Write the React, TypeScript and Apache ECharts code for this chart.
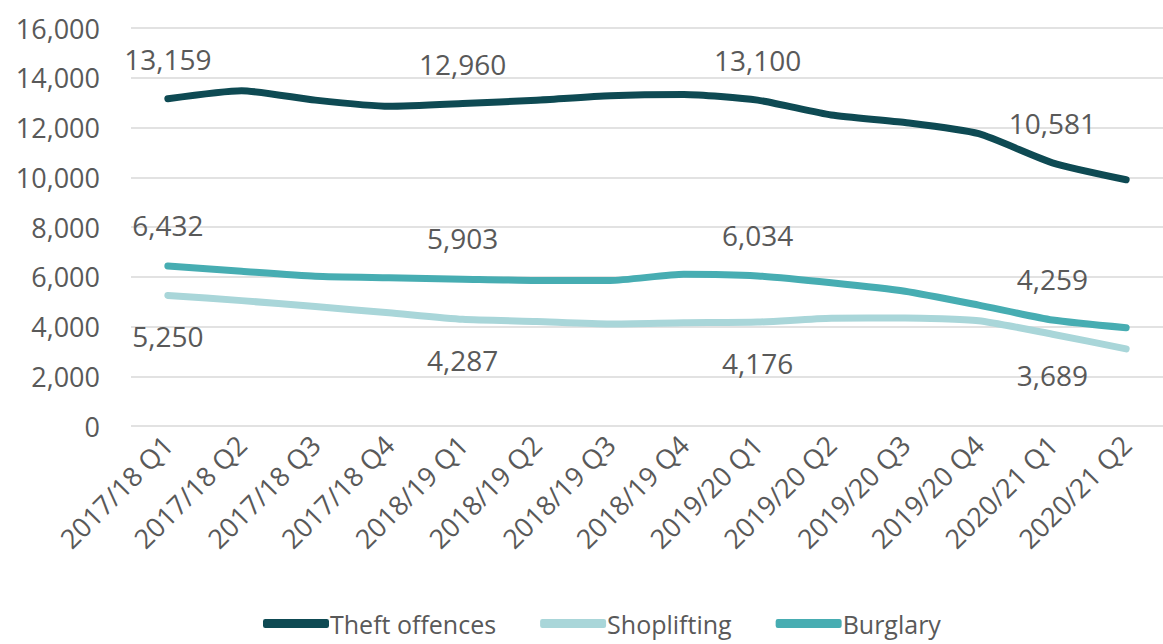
import React, { useEffect, useRef } from "react";
import * as echarts from "echarts";

const categories = [
  "2017/18 Q1", "2017/18 Q2", "2017/18 Q3", "2017/18 Q4",
  "2018/19 Q1", "2018/19 Q2", "2018/19 Q3", "2018/19 Q4",
  "2019/20 Q1", "2019/20 Q2", "2019/20 Q3", "2019/20 Q4",
  "2020/21 Q1", "2020/21 Q2",
];
const theft = [13159, 13480, 13100, 12850, 12960, 13100, 13280, 13330, 13100, 12500, 12200, 11750, 10581, 9900];
const shoplifting = [5250, 5040, 4800, 4550, 4287, 4200, 4100, 4150, 4176, 4330, 4340, 4230, 3689, 3100];
const burglary = [6432, 6220, 6020, 5960, 5903, 5850, 5850, 6100, 6034, 5760, 5420, 4860, 4259, 3950];
const labelledIdx = [0, 4, 8, 12];
const yTicks = { min: 0, max: 16000, interval: 2000 };

const FONT = "Open Sans";
const GREY = "#595959";

function mk(name: string, values: number[], color: string, pos: "top" | "bottom", dist: number) {
  return {
    name,
    type: "line",
    smooth: 0.2,
    symbol: "circle",
    symbolSize: 0.1,
    showSymbol: true,
    lineStyle: { color, width: 7, cap: "round", join: "round" },
    itemStyle: { color },
    data: values.map((v, i) => ({
      value: v,
      label: {
        show: labelledIdx.includes(i),
        position: pos,
        distance: dist,
        color: GREY,
        fontFamily: FONT,
        fontSize: 28,
        formatter: (p: any) => Number(p.value).toLocaleString("en-US"),
      },
    })),
  };
}

export default function App() {
  const ref = useRef<HTMLDivElement>(null);
  useEffect(() => {
    const chart = echarts.init(ref.current!, null, { renderer: "svg" });
    chart.setOption({
      animation: false,
      backgroundColor: "#ffffff",
      grid: { left: 131, right: -9, top: 28, bottom: 218 },
      legend: {
        top: 606,
        left: 258,
        itemWidth: 66,
        itemHeight: 9,
        itemGap: 44,
        icon: "roundRect",
        textStyle: { color: GREY, fontFamily: FONT, fontSize: 25, padding: [0, 0, 0, -4] },
        data: ["Theft offences", "Shoplifting", "Burglary"],
      },
      xAxis: {
        type: "category",
        data: categories,
        boundaryGap: true,
        axisLine: { show: false },
        axisTick: { show: false },
        axisLabel: { rotate: 45, color: GREY, fontFamily: FONT, fontSize: 27, margin: 14, interval: 0 },
      },
      yAxis: {
        type: "value",
        min: yTicks.min,
        max: yTicks.max,
        interval: yTicks.interval,
        axisLine: { show: false },
        axisTick: { show: false },
        splitLine: { lineStyle: { color: "#d9d9d9", width: 1.5 } },
        axisLabel: {
          color: GREY,
          fontFamily: FONT,
          fontSize: 27,
          margin: 31,
          formatter: (v: number) => v.toLocaleString("en-US"),
        },
      },
      series: [
        mk("Theft offences", theft, "#0e4a53", "top", 26),
        mk("Shoplifting", shoplifting, "#a9d6d9", "bottom", 27),
        mk("Burglary", burglary, "#47adb2", "top", 27),
      ],
    });
    return () => chart.dispose();
  }, []);
  return (
    <div
      ref={ref}
      style={{ position: "fixed", left: 0, top: 0, width: 1163, height: 644, background: "#fff" }}
    />
  );
}
